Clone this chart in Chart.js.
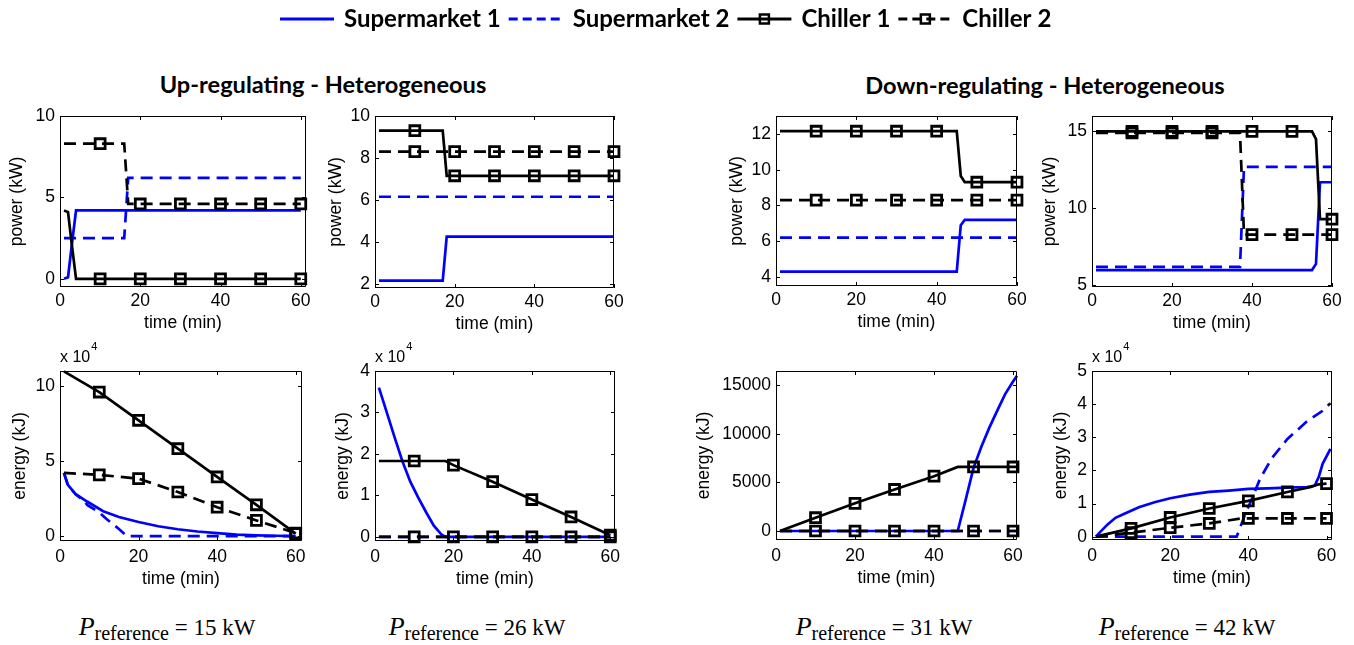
<!DOCTYPE html>
<html>
<head>
<meta charset="utf-8">
<title>Supermarket and chiller regulation</title>
<script src="https://cdn.jsdelivr.net/npm/chart.js@4.4.1/dist/chart.umd.min.js"></script>
<style>
  html, body { margin: 0; padding: 0; background: #fff; }
  #page { position: relative; width: 1354px; height: 645px; overflow: hidden; }
  #page canvas { position: absolute; }
  .heading { position: absolute; font: bold 23.6px Lato, sans-serif; white-space: nowrap; transform: translateX(-50%); }
  .pref { position: absolute; font: 23px "Liberation Serif", serif; white-space: nowrap; transform: translateX(-50%); }
  .pref i { font-size: 26px; }
  .pref sub { font-size: 20px; vertical-align: -5px; line-height: 0; }
</style>
</head>
<body>
<div id="page">
  <canvas id="legend" width="1354" height="40" style="left:0;top:0"></canvas>
  <div class="heading" style="left:323px;top:70px">Up-regulating - Heterogeneous</div>
  <div class="heading" style="left:1045px;top:71px">Down-regulating - Heterogeneous</div>
</div>
<script>
const timeTicks = [0, 20, 40, 60];
const seriesNames = ['Supermarket 1', 'Supermarket 2', 'Chiller 1', 'Chiller 2'];
const referencePower = [15, 26, 31, 42];

// power (kW) against time (min), as [minute, value]
const p15PowerSm1 = [[1, 0], [2, 0.1], [3, 2.2], [4, 4.2], [60, 4.2]];
const p15PowerSm2 = [[1, 2.5], [16, 2.5], [17, 6.2], [60, 6.2]];
const p15PowerCh1 = [[1, 4.2], [2, 4.1], [3, 2.0], [4, 0], [10, 0], [20, 0], [30, 0], [40, 0], [50, 0], [60, 0]];
const p15PowerCh2 = [[1, 8.3], [10, 8.3], [16, 8.3], [17, 4.6], [20, 4.6], [30, 4.6], [40, 4.6], [50, 4.6], [60, 4.6]];
const p15PowerTicks = [0, 5, 10];

const p26PowerSm1 = [[1, 2.15], [17, 2.15], [18, 4.25], [60, 4.25]];
const p26PowerSm2 = [[1, 6.15], [60, 6.15]];
const p26PowerCh1 = [[1, 9.3], [10, 9.3], [17, 9.3], [18, 7.15], [20, 7.15], [30, 7.15], [40, 7.15], [50, 7.15], [60, 7.15]];
const p26PowerCh2 = [[1, 8.3], [10, 8.3], [20, 8.3], [30, 8.3], [40, 8.3], [50, 8.3], [60, 8.3]];
const p26PowerTicks = [2, 4, 6, 8, 10];

const p31PowerSm1 = [[1, 4.3], [45, 4.3], [46, 6.9], [47, 7.2], [60, 7.2]];
const p31PowerSm2 = [[1, 6.2], [60, 6.2]];
const p31PowerCh1 = [[1, 12.15], [10, 12.15], [20, 12.15], [30, 12.15], [40, 12.15], [45, 12.15], [46, 9.65], [47, 9.3], [50, 9.3], [60, 9.3]];
const p31PowerCh2 = [[1, 8.3], [10, 8.3], [20, 8.3], [30, 8.3], [40, 8.3], [50, 8.3], [60, 8.3]];
const p31PowerTicks = [4, 6, 8, 10, 12];

const p42PowerSm1 = [[1, 6.0], [55, 6.0], [56, 6.4], [57, 11.7], [60, 11.7]];
const p42PowerSm2 = [[1, 6.2], [37, 6.2], [38, 12.7], [60, 12.7]];
const p42PowerCh1 = [[1, 15], [10, 15], [20, 15], [30, 15], [40, 15], [50, 15], [55, 15], [56, 14.5], [57, 9.3], [60, 9.3]];
const p42PowerCh2 = [[1, 14.9], [10, 14.9], [20, 14.9], [30, 14.9], [37, 14.9], [38, 8.3], [40, 8.3], [50, 8.3], [60, 8.3]];
const p42PowerTicks = [5, 10, 15];

// stored energy (kJ) against time (min)
const p15EnergySm1 = [[1, 42000], [2, 34000], [4, 27800], [7, 22800], [11, 16500], [15, 12700], [20, 9300], [25, 6500], [30, 4500], [35, 3000], [40, 2000], [45, 1000], [50, 500], [55, 200], [60, 0]];
const p15EnergySm2 = [[1, 42000], [2, 34000], [4, 27800], [6, 23500], [7, 20500], [10, 15700], [12, 11000], [15, 4700], [17, 0], [60, 0]];
const p15EnergyCh1 = [[1, 109500], [10, 95800], [20, 77000], [30, 58100], [40, 39300], [50, 20800], [60, 1600]];
const p15EnergyCh2 = [[1, 42000], [10, 40700], [20, 38200], [30, 29300], [40, 19200], [50, 10400], [60, 2000]];
const p15EnergyTicks = [0, 50000, 100000];

const p26EnergySm1 = [[1, 36000], [3, 30000], [5, 24000], [7, 18200], [9, 13300], [11, 9500], [13, 6000], [15, 2700], [17, 500], [18, 0], [60, 0]];
const p26EnergySm2 = [[1, 0], [60, 0]];
const p26EnergyCh1 = [[1, 18300], [10, 18300], [18, 18300], [20, 17300], [30, 13300], [40, 9000], [50, 4800], [60, 400]];
const p26EnergyCh2 = [[1, 0], [10, 0], [20, 0], [30, 0], [40, 0], [50, 0], [60, 0]];
const p26EnergyTicks = [0, 10000, 20000, 30000, 40000];

const p31EnergySm1 = [[1, 0], [46, 0], [48, 3200], [50, 6500], [52, 8700], [54, 10650], [56, 12400], [58, 14100], [60, 15400], [61, 16000]];
const p31EnergySm2 = [[1, 0], [61, 0]];
const p31EnergyCh1 = [[1, 0], [10, 1370], [20, 2850], [30, 4280], [40, 5650], [46, 6600], [50, 6600], [60, 6600], [61, 6600]];
const p31EnergyCh2 = [[1, 0], [10, 0], [20, 0], [30, 0], [40, 0], [50, 0], [60, 0], [61, 0]];
const p31EnergyTicks = [0, 5000, 10000, 15000];

const p42EnergySm1 = [[1, 0], [2, 1300], [4, 3700], [6, 5700], [8, 6800], [12, 8900], [16, 10400], [20, 11600], [25, 12700], [30, 13500], [35, 13900], [40, 14400], [45, 14600], [50, 14800], [55, 15000], [57, 15400], [58, 18000], [59, 22000], [61, 26500]];
const p42EnergySm2 = [[1, 0], [37, 0], [39, 6200], [41, 11700], [43, 17500], [46, 23700], [50, 29500], [55, 34800], [59, 38000], [61, 40300]];
const p42EnergyCh1 = [[1, 0], [10, 2500], [20, 5800], [30, 8500], [40, 10800], [50, 13500], [56, 15000], [58, 15800], [60, 16000]];
const p42EnergyCh2 = [[1, 0], [10, 1200], [20, 2700], [30, 4000], [38, 5500], [40, 5500], [50, 5500], [60, 5500]];
const p42EnergyTicks = [0, 10000, 20000, 30000, 40000, 50000];

// panel placement: box = [left, top, width, height] of the plot frame
const panels = [
  { box: [60, 116, 246, 171], labelX: 17, xMax: 61.3, yMin: -0.5, yMax: 10, yTicks: p15PowerTicks, yTitle: 'power (kW)',
    series: [p15PowerSm1, p15PowerSm2, p15PowerCh1, p15PowerCh2] },
  { box: [375, 116, 239, 172], labelX: 336, xMax: 60, yMin: 1.8, yMax: 10, yTicks: p26PowerTicks, yTitle: 'power (kW)',
    series: [p26PowerSm1, p26PowerSm2, p26PowerCh1, p26PowerCh2] },
  { box: [776, 116, 241, 170], labelX: 737, xMax: 60, yMin: 3.5, yMax: 13, yTicks: p31PowerTicks, yTitle: 'power (kW)',
    series: [p31PowerSm1, p31PowerSm2, p31PowerCh1, p31PowerCh2] },
  { box: [1092, 116, 240, 171], labelX: 1050, xMax: 60, yMin: 4.9, yMax: 16, yTicks: p42PowerTicks, yTitle: 'power (kW)',
    series: [p42PowerSm1, p42PowerSm2, p42PowerCh1, p42PowerCh2] },
  { box: [60, 371, 242, 170], labelX: 20, xMax: 61.6, yMin: -3300, yMax: 109800, yTicks: p15EnergyTicks, yTitle: 'energy (kJ)', exponent: 4,
    series: [p15EnergySm1, p15EnergySm2, p15EnergyCh1, p15EnergyCh2] },
  { box: [375, 371, 240, 170], labelX: 343, xMax: 61.2, yMin: -1000, yMax: 40000, yTicks: p26EnergyTicks, yTitle: 'energy (kJ)', exponent: 4,
    series: [p26EnergySm1, p26EnergySm2, p26EnergyCh1, p26EnergyCh2] },
  { box: [776, 371, 241, 169], labelX: 704, xMax: 61, yMin: -925, yMax: 16480, yTicks: p31EnergyTicks, yTitle: 'energy (kJ)',
    series: [p31EnergySm1, p31EnergySm2, p31EnergyCh1, p31EnergyCh2] },
  { box: [1092, 371, 240, 169], labelX: 1061, xMax: 61.4, yMin: -1000, yMax: 50000, yTicks: p42EnergyTicks, yTitle: 'energy (kJ)', exponent: 4,
    series: [p42EnergySm1, p42EnergySm2, p42EnergyCh1, p42EnergyCh2] },
];
const refLabelX = [167, 477, 884, 1187];
const legendLeft = 280;

const BLUE = '#0000ff';
const styles = [
  { color: BLUE, dash: [], marker: false },
  { color: BLUE, dash: [12, 7], marker: false },
  { color: '#000', dash: [], marker: true },
  { color: '#000', dash: [12, 7], marker: true },
];

Chart.defaults.font.family = '"Liberation Sans", Arial, sans-serif';
Chart.defaults.font.size = 17.5;
Chart.defaults.color = '#000';

function makeDatasets(series) {
  return series.map((pts, i) => ({
    label: seriesNames[i],
    data: pts.map(([x, y]) => ({ x, y })),
    borderColor: styles[i].color,
    borderWidth: 2.7,
    borderDash: styles[i].dash,
    order: 3 - i,
    tension: 0,
    clip: false,
    pointStyle: 'rect',
    pointRadius: ctx => (styles[i].marker && ctx.raw && ctx.raw.x % 10 === 0) ? 7 : 0,
    pointBorderWidth: 2.8,
    pointBorderColor: '#000',
    pointBackgroundColor: 'rgba(0,0,0,0)',
  }));
}

// MATLAB-style box with inward ticks on all four sides, plus the "x 10^n" multiplier
const axesFrame = {
  id: 'axesFrame',
  afterDraw(chart, args, opts) {
    const { ctx, chartArea: a, scales: { x, y } } = chart;
    const len = 4;
    ctx.save();
    ctx.strokeStyle = '#000';
    ctx.lineWidth = 1;
    ctx.beginPath();
    ctx.rect(a.left + 0.5, a.top + 0.5, a.width - 1, a.height - 1);
    x.ticks.forEach(t => {
      const px = Math.round(x.getPixelForValue(t.value)) + 0.5;
      ctx.moveTo(px, a.bottom); ctx.lineTo(px, a.bottom - len);
      ctx.moveTo(px, a.top); ctx.lineTo(px, a.top + len);
    });
    y.ticks.forEach(t => {
      const py = Math.round(y.getPixelForValue(t.value)) + 0.5;
      ctx.moveTo(a.left, py); ctx.lineTo(a.left + len, py);
      ctx.moveTo(a.right, py); ctx.lineTo(a.right - len, py);
    });
    ctx.stroke();
    if (opts.exponent) {
      ctx.fillStyle = '#000';
      ctx.textBaseline = 'alphabetic';
      ctx.font = '16px "Liberation Sans", Arial, sans-serif';
      ctx.fillText('x 10', a.left, a.top - 9);
      const w = ctx.measureText('x 10').width;
      ctx.font = '11px "Liberation Sans", Arial, sans-serif';
      ctx.fillText(String(opts.exponent), a.left + w + 1, a.top - 21);
    }
    ctx.restore();
  }
};

// one row of line samples + names across the top
const legendRow = {
  id: 'legendRow',
  afterDraw(chart) {
    const { ctx } = chart;
    const sample = 54, gapText = 10, gapItem = 8, y = 19;
    ctx.save();
    ctx.font = 'bold 24px Lato, sans-serif';
    let x = legendLeft;
    chart.data.datasets.forEach((d, i) => {
      ctx.strokeStyle = d.borderColor;
      ctx.lineWidth = 3;
      ctx.setLineDash(d.borderDash.length ? [9, 5] : []);
      ctx.beginPath();
      ctx.moveTo(x, y); ctx.lineTo(x + sample, y);
      ctx.stroke();
      ctx.setLineDash([]);
      if (styles[i].marker) {
        ctx.lineWidth = 2.5;
        ctx.strokeRect(x + sample / 2 - 4.5, y - 4.5, 9, 9);
      }
      x += sample + gapText;
      ctx.fillStyle = '#000';
      ctx.textBaseline = 'middle';
      ctx.fillText(d.label, x, y);
      x += ctx.measureText(d.label).width + gapItem;
    });
    ctx.restore();
  }
};

new Chart(document.getElementById('legend'), {
  type: 'line',
  data: { datasets: makeDatasets(seriesNames.map(() => [])) },
  options: {
    responsive: false, animation: false, devicePixelRatio: 1,
    plugins: { legend: { display: false }, tooltip: { enabled: false } },
    scales: { x: { type: 'linear', display: false }, y: { display: false } }
  },
  plugins: [legendRow]
});

const page = document.getElementById('page');
const padLeft = 90, padTop = 36, padRight = 24, xAxisH = 52;

panels.forEach((p, n) => {
  const [left, top, w, h] = p.box;
  const lower = n >= 4;
  const canvas = document.createElement('canvas');
  canvas.width = padLeft + w + padRight;
  canvas.height = padTop + h + xAxisH;
  canvas.style.left = (left - padLeft) + 'px';
  canvas.style.top = (top - padTop) + 'px';
  page.appendChild(canvas);

  const scale = p.exponent ? 10 ** p.exponent : 1;
  new Chart(canvas, {
    type: 'line',
    data: { datasets: makeDatasets(p.series) },
    options: {
      responsive: false, animation: false, devicePixelRatio: 1,
      layout: { padding: { top: padTop, right: padRight, left: 0, bottom: 0 } },
      plugins: { legend: { display: false }, tooltip: { enabled: false }, axesFrame: { exponent: p.exponent } },
      scales: {
        x: {
          type: 'linear', min: 0, max: p.xMax,
          afterBuildTicks: s => { s.ticks = timeTicks.map(v => ({ value: v })); },
          afterFit: s => { s.height = xAxisH; },
          grid: { display: false, drawTicks: false },
          border: { display: false },
          ticks: { padding: lower ? 5.5 : 4, maxRotation: 0, autoSkip: false, callback: v => v },
          title: { display: true, text: 'time (min)', padding: { top: 0, bottom: lower ? 3.5 : 5.5 } }
        },
        y: {
          type: 'linear', min: p.yMin, max: p.yMax,
          afterBuildTicks: s => { s.ticks = p.yTicks.map(v => ({ value: v })); },
          afterFit: s => { s.width = padLeft; },
          grid: { display: false, drawTicks: false },
          border: { display: false },
          ticks: { padding: 5, autoSkip: false, callback: v => v / scale },
          title: { display: true, text: p.yTitle, padding: { top: p.labelX - (left - padLeft) - 10.5, bottom: 0 } }
        }
      }
    },
    plugins: [axesFrame]
  });
});

// reference power under each column
referencePower.forEach((kw, i) => {
  const div = document.createElement('div');
  div.className = 'pref';
  div.style.left = refLabelX[i] + 'px';
  div.style.top = '612px';
  div.innerHTML = '<i>P</i><sub>reference</sub> = ' + kw + ' kW';
  page.appendChild(div);
});
</script>
</body>
</html>
